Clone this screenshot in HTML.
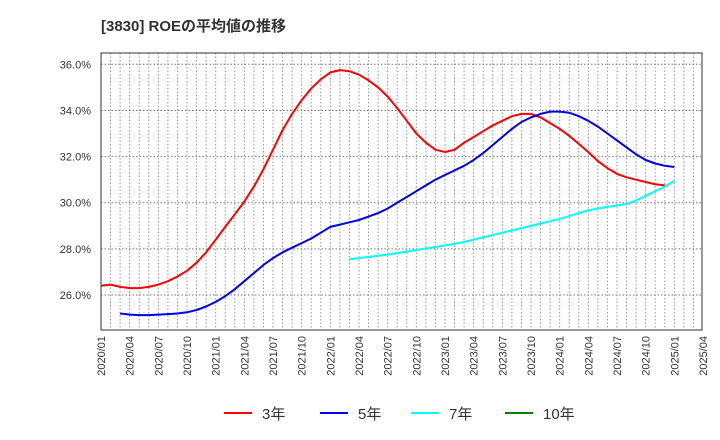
<!DOCTYPE html>
<html><head><meta charset="utf-8"><style>
body{margin:0;background:#fff;}
svg{display:block;font-family:"Liberation Sans","Noto Sans CJK JP",sans-serif;}
</style></head><body>
<svg id="chart" width="720" height="440" xmlns="http://www.w3.org/2000/svg">
<text x="101" y="31" font-size="15" font-weight="bold" fill="#333">[3830]  ROEの平均値の推移</text>
<g id="grid"></g>
<g id="series"></g>
<rect x="101" y="53" width="601" height="277" fill="none" stroke="#333" stroke-width="1"/>
<g id="yaxis"></g><g id="xaxis"></g><g id="legend"></g>
</svg>
<script>
const yTicks=[26,28,30,32,34,36];
const xTickLabels=["2020/01","2020/04","2020/07","2020/10","2021/01","2021/04","2021/07","2021/10","2022/01","2022/04","2022/07","2022/10","2023/01","2023/04","2023/07","2023/10","2024/01","2024/04","2024/07","2024/10","2025/01","2025/04"];
const roe3Start=0;
const roe3=[26.4,26.45,26.35,26.3,26.3,26.35,26.45,26.6,26.8,27.05,27.4,27.85,28.4,28.95,29.5,30.05,30.7,31.45,32.3,33.15,33.85,34.45,34.95,35.35,35.65,35.75,35.7,35.55,35.3,35.0,34.6,34.1,33.55,33.0,32.6,32.3,32.2,32.3,32.6,32.85,33.1,33.35,33.55,33.75,33.85,33.85,33.7,33.45,33.2,32.9,32.55,32.2,31.8,31.5,31.25,31.1,31.0,30.9,30.8,30.75];
const roe5Start=2;
const roe5=[25.2,25.15,25.13,25.13,25.15,25.17,25.2,25.25,25.35,25.5,25.7,25.95,26.25,26.6,26.95,27.3,27.6,27.85,28.05,28.25,28.45,28.7,28.95,29.05,29.15,29.25,29.4,29.55,29.75,30.0,30.25,30.5,30.75,31.0,31.2,31.4,31.6,31.85,32.15,32.5,32.85,33.2,33.5,33.7,33.85,33.95,33.95,33.9,33.75,33.55,33.3,33.0,32.7,32.4,32.1,31.85,31.7,31.6,31.55];
const roe7Start=26;
const roe7=[27.55,27.6,27.65,27.7,27.75,27.82,27.88,27.95,28.02,28.08,28.15,28.22,28.3,28.4,28.5,28.6,28.7,28.8,28.9,29.0,29.1,29.2,29.3,29.42,29.55,29.67,29.75,29.82,29.88,29.95,30.1,30.3,30.5,30.7,30.95];
const roe10Start=0;
const roe10=[];
const NS="http://www.w3.org/2000/svg";
const X0=101,MW=602/63;
function xs(m){return X0+m*MW;}
function ys(v){return 295-(v-26)*23.07;}
function mk(tag,attrs,parent){const e=document.createElementNS(NS,tag);for(const k in attrs)e.setAttribute(k,attrs[k]);parent.appendChild(e);return e;}
const grid=document.getElementById('grid');
for(let m=1;m<63;m++){
 const l=mk('line',{x1:xs(m),x2:xs(m),y1:53,y2:330,stroke:'#999','stroke-dasharray':'1.5,2'},grid);
 
 
}
const ya=document.getElementById('yaxis');
yTicks.forEach(v=>{
 const l=mk('line',{x1:101,x2:702,y1:ys(v),y2:ys(v),stroke:'#777','stroke-dasharray':'1.5,2'},grid);
 
 
 const t=mk('text',{x:91,y:ys(v)+4,'font-size':11,fill:'#333','text-anchor':'end'},ya);
 t.textContent=v.toFixed(1)+'%';
 
 
});
const xa=document.getElementById('xaxis');
xTickLabels.forEach((s,i)=>{
 const x=xs(i*3);
 const t=mk('text',{x:0,y:0,'font-size':11,fill:'#333','text-anchor':'end',transform:`translate(${x+4},336) rotate(-90)`},xa);
 t.textContent=s;
 
 
});
const sg=document.getElementById('series');
function drawSeries(arr,start,color,name){
 if(!arr.length)return;
 const d=arr.map((v,i)=>(i?'L':'M')+xs(start+i).toFixed(1)+','+ys(v).toFixed(1)).join('');
 const p=mk('path',{d:d,fill:'none',stroke:color,'stroke-width':2,'stroke-linejoin':'round'},sg);
 
 
}
drawSeries(roe3,roe3Start,'#ff0000','line-3yr');
drawSeries(roe5,roe5Start,'#0000ee','line-5yr');
drawSeries(roe7,roe7Start,'#00ffff','line-7yr');
drawSeries(roe10,roe10Start,'#008000','line-10yr');
const lg=document.getElementById('legend');
[['3年','#ff0000',224],['5年','#0000ee',320],['7年','#00ffff',411],['10年','#008000',505]].forEach(([lab,c,x])=>{
 const l=mk('line',{x1:x,x2:x+28,y1:413,y2:413,stroke:c,'stroke-width':2},lg);
 
 
 const t=mk('text',{x:x+38,y:419,'font-size':15,fill:'#333'},lg);
 t.textContent=lab;
 
 
});
</script>
</body></html>
